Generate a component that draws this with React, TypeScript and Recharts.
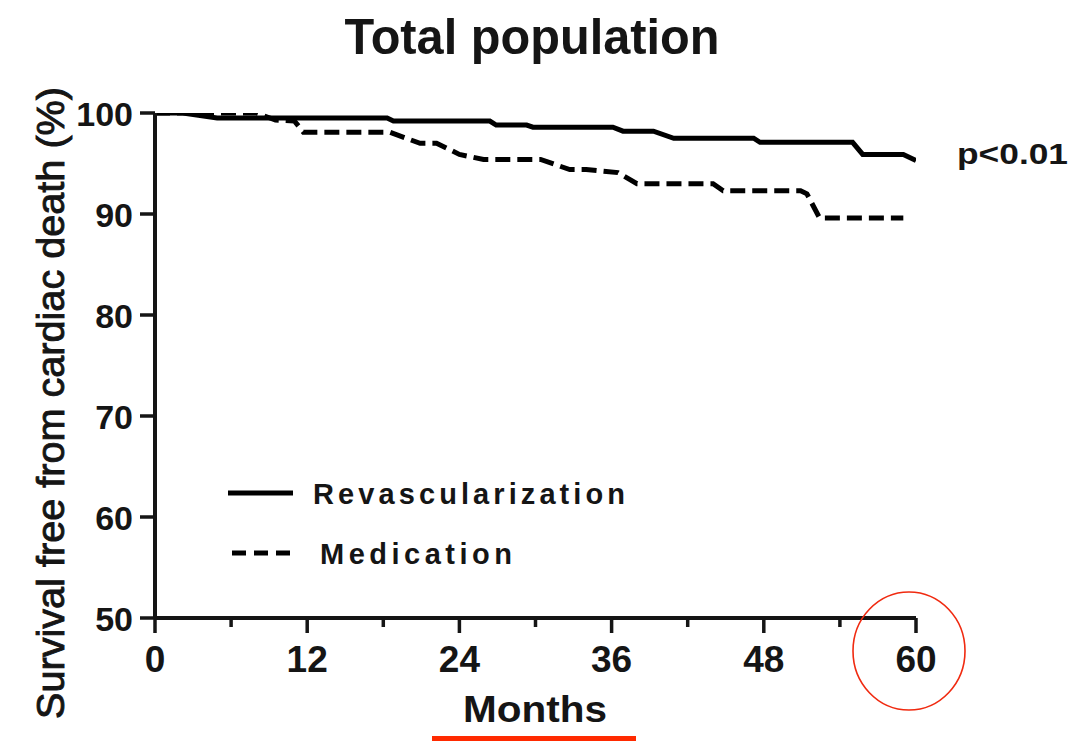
import React from 'react';
import { LineChart, Line, XAxis, YAxis, Legend } from 'recharts';

// ---- data ----
const revascMonths = [0, 2.2, 4.9, 18.3, 18.8, 26.4, 26.9, 29.3, 29.8, 36.1, 36.9, 39.3, 40.9, 47.2, 47.7, 55.0, 55.8, 59.0, 60.0];
const revascSurvival = [100, 100, 99.5, 99.5, 99.2, 99.2, 98.8, 98.8, 98.6, 98.6, 98.2, 98.2, 97.5, 97.5, 97.1, 97.1, 95.9, 95.9, 95.3];

const medMonths = [0, 8.0, 9.5, 11.0, 11.7, 18.5, 20.9, 22.2, 24.0, 25.9, 30.4, 32.7, 34.0, 36.5, 38.0, 44.0, 44.8, 50.9, 51.4, 52.4, 59.0];
const medSurvival = [100, 100, 99.3, 99.2, 98.1, 98.1, 97.0, 97.0, 95.9, 95.4, 95.4, 94.4, 94.4, 94.1, 93.0, 93.0, 92.3, 92.3, 92.0, 89.6, 89.6];

const xTicks = [0, 6, 12, 18, 24, 30, 36, 42, 48, 54, 60];
const xLabelTicks = [0, 12, 24, 36, 48, 60];
const yTicks = [50, 60, 70, 80, 90, 100];
const seriesNames = ['Revascularization', 'Medication'];
const seriesDash = ['0', '15 7'];

const chartTitle = 'Total population';
const xLabel = 'Months';
const yLabel = 'Survival free from cardiac death (%)';
const pValueText = 'p<0.01';

const revascData = revascMonths.map((m, i) => ({ month: m, survival: revascSurvival[i] }));
const medData = medMonths.map((m, i) => ({ month: m, survival: medSurvival[i] }));

const FONT = 'Arimo, "Liberation Sans", Arial, Helvetica, sans-serif';
const INK = '#151515';

const XTick = (props: any) => {
  const { x, y, payload } = props;
  const major = xLabelTicks.includes(payload.value);
  return (
    <g>
      <line x1={x} x2={x} y1={y} y2={y + (major ? 15 : 9)} stroke={INK} strokeWidth={3.5} />
      {major && (
        <text x={x} y={y + 54} textAnchor="middle" fontFamily={FONT} fontSize={37} fontWeight="bold" fill={INK}>
          {payload.value}
        </text>
      )}
    </g>
  );
};

const YTick = (props: any) => {
  const { x, y, payload } = props;
  return (
    <g>
      <line x1={x - 15} x2={x} y1={y} y2={y} stroke={INK} strokeWidth={3.5} />
      <text x={x - 22} y={y + 12.5} textAnchor="end" fontFamily={FONT} fontSize={34} fontWeight="bold" fill={INK}>
        {payload.value}
      </text>
    </g>
  );
};

const LegendContent = () => (
  <svg width={430} height={110}>
    {seriesNames.map((name, i) => (
      <g key={name}>
        {i === 0 ? (
          <line x1={3} x2={68} y1={20} y2={20} stroke="#000" strokeWidth={5} />
        ) : (
          <line x1={7} x2={65} y1={80} y2={80} stroke="#000" strokeWidth={5} strokeDasharray="14 8" />
        )}
        <text x={i === 0 ? 88 : 95} y={i === 0 ? 31 : 91} fontFamily={FONT} fontSize={29} fontWeight="bold"
          textLength={i === 0 ? 312 : 192} lengthAdjust="spacing" fill={INK}>
          {name}
        </text>
      </g>
    ))}
  </svg>
);

export default function App() {
  return (
    <div style={{ position: 'absolute', left: 0, top: 0, width: 1087, height: 741, background: '#fff' }}>
      <LineChart width={1087} height={741} data={revascData}
        margin={{ top: 113, right: 171, bottom: 83, left: 95 }}>
        <XAxis type="number" dataKey="month" domain={[0, 60]} ticks={xTicks} interval={0}
          axisLine={{ stroke: INK, strokeWidth: 4 }} tickLine={false}
          tickSize={0} tickMargin={0} height={40} tick={<XTick />} allowDataOverflow />
        <YAxis type="number" dataKey="survival" domain={[50, 100]} ticks={yTicks} interval={0}
          axisLine={{ stroke: INK, strokeWidth: 4 }} tickLine={false}
          tickSize={0} tickMargin={0} width={60} tick={<YTick />} allowDataOverflow />
        <Legend layout="horizontal" align="center" verticalAlign="middle"
          wrapperStyle={{ left: 225, top: 473, width: 430, height: 110 }}
          content={<LegendContent />} />
        <Line data={revascData} dataKey="survival" name={seriesNames[0]} type="linear" stroke="#000"
          strokeWidth={5} dot={false} isAnimationActive={false} strokeDasharray={seriesDash[0]} />
        <Line data={medData} dataKey="survival" name={seriesNames[1]} type="linear" stroke="#000"
          strokeWidth={5} dot={false} isAnimationActive={false} strokeDasharray={seriesDash[1]} />
      </LineChart>
      <svg width={1087} height={741} style={{ position: 'absolute', left: 0, top: 0, pointerEvents: 'none' }}>
        <text x={532} y={54} textAnchor="middle" fontFamily={FONT} fontSize={50} fontWeight="bold" fill={INK}
          textLength={375} lengthAdjust="spacingAndGlyphs">
          {chartTitle}
        </text>
        <text x={535} y={722} textAnchor="middle" fontFamily={FONT} fontSize={36} fontWeight="bold" fill={INK}
          textLength={144} lengthAdjust="spacingAndGlyphs">
          {xLabel}
        </text>
        <text transform="translate(64,403) rotate(-90)" textAnchor="middle" fontFamily={FONT} fontSize={38}
          fill={INK} stroke={INK} strokeWidth={0.9} textLength={632} lengthAdjust="spacingAndGlyphs">
          {yLabel}
        </text>
        <text x={957} y={164} fontFamily={FONT} fontSize={30} fontWeight="bold" fill={INK}
          textLength={111} lengthAdjust="spacingAndGlyphs">
          {pValueText}
        </text>
        <ellipse cx={909} cy={651} rx={56} ry={59} fill="none" stroke="#f02a10" strokeWidth={1.6} />
        <rect x={432} y={736} width={204} height={5} fill="#ff2a00" />
      </svg>
    </div>
  );
}
